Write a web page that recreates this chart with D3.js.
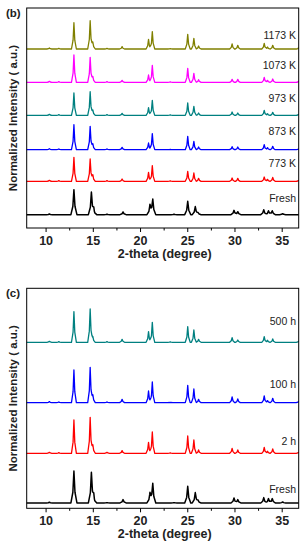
<!DOCTYPE html>
<html>
<head>
<meta charset="utf-8">
<script src="https://cdn.jsdelivr.net/npm/d3@7"></script>
<style>
  body { margin: 0; background: #fff; }
  svg text { font-family: Arial, "Liberation Sans", sans-serif; }
</style>
</head>
<body>
<svg id="chart" width="306" height="550"></svg>
<script>
// peak positions (2-theta, degree)
const heatedPos = [10.4, 11.4, 13.0, 14.72, 15.0, 16.5, 18.1, 20.9, 21.3, 23.2, 25.05, 25.7, 26.2, 29.75, 30.35, 33.15, 33.5, 34.05, 36.8];
const freshPos  = [10.4, 13.0, 14.85, 15.1, 16.5, 18.2, 21.05, 21.35, 23.6, 25.05, 25.85, 26.15, 29.95, 30.35, 33.1, 33.6, 34.0, 35.1];

// (b) peak heights, normalized intensity
const bFresh = [0.02, 0.75, 0.66, 0.16, 0.01, 0.08, 0.30, 0.46, 0.01, 0.40, 0.24, 0.06, 0.13, 0.09, 0.15, 0.12, 0.12, 0.03];
const b773   = [0.03, 0.02, 0.72, 0.67, 0.20, 0.02, 0.07, 0.27, 0.47, 0.01, 0.30, 0.25, 0.09, 0.10, 0.09, 0.13, 0.06, 0.12, 0.03];
const b873   = [0.03, 0.02, 0.75, 0.70, 0.18, 0.02, 0.07, 0.20, 0.48, 0.01, 0.40, 0.25, 0.08, 0.09, 0.08, 0.15, 0.06, 0.10, 0.03];
const b973   = [0.03, 0.02, 0.67, 0.71, 0.16, 0.02, 0.06, 0.23, 0.45, 0.01, 0.37, 0.27, 0.07, 0.10, 0.07, 0.15, 0.05, 0.09, 0.03];
const b1073  = [0.03, 0.02, 0.82, 0.75, 0.18, 0.02, 0.06, 0.22, 0.51, 0.01, 0.42, 0.27, 0.08, 0.09, 0.09, 0.15, 0.06, 0.10, 0.03];
const b1173  = [0.03, 0.02, 0.79, 0.85, 0.21, 0.02, 0.07, 0.29, 0.52, 0.01, 0.44, 0.32, 0.09, 0.15, 0.11, 0.17, 0.06, 0.11, 0.04];

// (c) peak heights
const cFresh = [0.02, 0.96, 0.90, 0.20, 0.01, 0.10, 0.30, 0.58, 0.01, 0.50, 0.31, 0.08, 0.15, 0.10, 0.16, 0.13, 0.13, 0.03];
const c2h    = [0.03, 0.02, 1.00, 1.08, 0.26, 0.03, 0.08, 0.33, 0.64, 0.01, 0.52, 0.40, 0.10, 0.15, 0.10, 0.18, 0.06, 0.13, 0.03];
const c100h  = [0.03, 0.02, 0.98, 1.06, 0.24, 0.02, 0.10, 0.35, 0.62, 0.01, 0.52, 0.41, 0.10, 0.17, 0.11, 0.20, 0.06, 0.13, 0.04];
const c500h  = [0.03, 0.02, 0.92, 1.00, 0.18, 0.02, 0.09, 0.32, 0.60, 0.01, 0.47, 0.37, 0.09, 0.14, 0.07, 0.17, 0.06, 0.10, 0.04];

const bLabels = ['Fresh', '773 K', '873 K', '973 K', '1073 K', '1173 K'];
const cLabels = ['Fresh', '2 h', '100 h', '500 h'];
const bOffsets = [0.4, 1.4, 2.35, 3.38, 4.37, 5.37];
const cOffsets = [0.16, 1.65, 3.17, 4.98];
const xTicks = [10, 15, 20, 25, 30, 35];

const svg = d3.select('#chart');
const left = 26.7, right = 298.7;
const x = d3.scaleLinear().domain([8, 36.8]).range([left, right]);

// sum of narrow triangular peaks, evaluated at every peak foot and apex
function pattern(pos, h, hw) {
  let xs = [8, 36.8];
  pos.forEach(p => xs.push(p - hw, p - hw * 0.35, p, p + hw * 0.35, p + hw));
  xs = xs.filter(v => v >= 8 && v <= 36.8).sort((a, b) => a - b);
  return xs.map(v => {
    let y = 0;
    pos.forEach((p, i) => {
      const d = Math.abs(v - p) / hw;
      // sharp top, slightly flared foot
      if (d < 0.35) y += h[i] * (1 - d * 1.9);
      else if (d < 1) y += h[i] * 0.335 * (1 - d) / 0.65;
    });
    return [v, y];
  });
}

function drawPanel(cfg) {
  const y = d3.scaleLinear().domain([0, 6.6]).range([cfg.bottom, cfg.top]);
  const g = svg.append('g');

  const line = d3.line().x(d => x(d[0])).y(d => y(d[1]));

  cfg.series.forEach((s, i) => {
    const pts = pattern(s.pos, s.h, s.hw).map(d => [d[0], d[1] + cfg.offsets[i]]);
    g.append('path')
      .attr('d', line(pts))
      .attr('fill', 'none')
      .attr('stroke', s.color)
      .attr('stroke-width', s.sw)
      .attr('stroke-linejoin', 'round');

    g.append('text')
      .attr('x', 296)
      .attr('y', y(cfg.offsets[i]) - cfg.lift[i])
      .attr('dy', '0.35em')
      .attr('text-anchor', 'end')
      .attr('font-size', 10.5)
      .attr('fill', '#222')
      .text(cfg.labels[i]);
  });

  // frame
  g.append('rect')
    .attr('x', left).attr('y', cfg.top)
    .attr('width', right - left).attr('height', cfg.bottom - cfg.top)
    .attr('fill', 'none').attr('stroke', '#000').attr('stroke-width', 1);

  // x axis, outward ticks with minor ticks
  const minor = d3.range(7.5, 37, 2.5).filter(v => v > 8 && v < 36.8 && v % 5 !== 0);
  g.append('g')
    .attr('transform', `translate(0,${cfg.bottom})`)
    .call(d3.axisBottom(x).tickValues(minor).tickSize(2.5).tickFormat(''))
    .call(a => a.select('.domain').remove());
  const ax = g.append('g')
    .attr('transform', `translate(0,${cfg.bottom})`)
    .call(d3.axisBottom(x).tickValues(xTicks).tickSize(4).tickPadding(4))
    .call(a => a.select('.domain').remove());
  ax.selectAll('text')
    .attr('font-size', 12.5)
    .attr('font-weight', 'bold')
    .attr('fill', '#222')
    .style('font-family', 'Arial, "Liberation Sans", sans-serif');

  g.append('text')
    .attr('x', (left + right) / 2 + 2)
    .attr('y', cfg.bottom + 30)
    .attr('text-anchor', 'middle')
    .attr('font-size', 12.5)
    .attr('font-weight', 'bold')
    .attr('fill', '#222')
    .text('2-theta (degree)');

  g.append('text')
    .attr('transform', `translate(13,${(cfg.top + cfg.bottom) / 2}) rotate(-90)`)
    .attr('dy', '0.35em')
    .attr('text-anchor', 'middle')
    .attr('font-size', 11.5)
    .attr('font-weight', 'bold')
    .attr('fill', '#222')
    .text('Normalized Intensity ( a.u.)');

  g.append('text')
    .attr('x', 6).attr('y', cfg.top + 5)
    .attr('dy', '0.35em')
    .attr('font-size', 11.5)
    .attr('font-weight', 'bold')
    .attr('fill', '#222')
    .text(cfg.tag);
}

drawPanel({
  tag: '(b)', top: 8, bottom: 228,
  labels: bLabels, offsets: bOffsets,
  lift: [16, 18, 18, 17, 17, 14],
  series: [
    { pos: freshPos, h: bFresh, hw: 0.32, color: '#000000', sw: 1.5 },
    { pos: heatedPos, h: b773, hw: 0.26, color: '#ff0000', sw: 1.3 },
    { pos: heatedPos, h: b873, hw: 0.26, color: '#0000ff', sw: 1.3 },
    { pos: heatedPos, h: b973, hw: 0.26, color: '#008080', sw: 1.3 },
    { pos: heatedPos, h: b1073, hw: 0.26, color: '#ff00ff', sw: 1.3 },
    { pos: heatedPos, h: b1173, hw: 0.26, color: '#808000', sw: 1.3 }
  ]
});

drawPanel({
  tag: '(c)', top: 288.3, bottom: 508.3,
  labels: cLabels, offsets: cOffsets,
  lift: [14, 12, 18, 21],
  series: [
    { pos: freshPos, h: cFresh, hw: 0.32, color: '#000000', sw: 1.5 },
    { pos: heatedPos, h: c2h, hw: 0.26, color: '#ff0000', sw: 1.3 },
    { pos: heatedPos, h: c100h, hw: 0.26, color: '#0000ff', sw: 1.3 },
    { pos: heatedPos, h: c500h, hw: 0.26, color: '#008080', sw: 1.3 }
  ]
});
</script>
</body>
</html>
